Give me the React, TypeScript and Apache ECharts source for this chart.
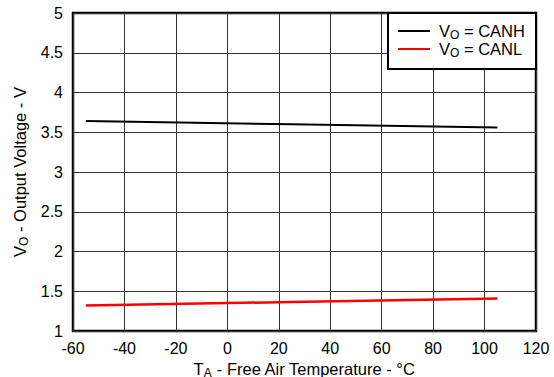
import React, { useEffect, useRef } from "react";
import * as echarts from "echarts";

const temps = [-55, 25, 105];
const canh = [3.64, 3.6, 3.56];
const canl = [1.32, 1.365, 1.41];
const seriesNames = ["CANH", "CANL"];
const seriesColors = ["#000000", "#ff0000"];

export default function App() {
  const ref = useRef<HTMLDivElement>(null);
  useEffect(() => {
    if (!ref.current) return;
    const chart = echarts.init(ref.current, null, { renderer: "svg" });
    const font = "'Liberation Sans', Arial, sans-serif";
    const rich = {
      m: { fontSize: 16.5, lineHeight: 18, fontFamily: font, color: "#000" },
      s: { fontSize: 12, lineHeight: 12, fontFamily: font, color: "#000", verticalAlign: "bottom", padding: [0, 0, -1, 0] },
    };
    chart.setOption({
      animation: false,
      backgroundColor: "#fff",
      textStyle: { fontFamily: font },
      grid: {
        left: 73,
        right: 18,
        top: 13,
        bottom: 46,
        show: true,
        borderColor: "#000",
        borderWidth: 2.5,
        containLabel: false,
        outerBoundsMode: "none",
      },
      xAxis: {
        type: "value",
        min: -60,
        max: 120,
        interval: 20,
        axisLine: { show: false },
        axisTick: { show: false },
        axisLabel: { fontSize: 16, color: "#000", margin: 9, fontFamily: font },
        splitLine: { show: true, lineStyle: { color: "#333", width: 1 } },
        name: "{m|T}{s|A}{m| - Free Air Temperature - °C}",
        nameLocation: "middle",
        nameGap: 20,
        nameTextStyle: { rich },
      },
      yAxis: {
        type: "value",
        min: 1,
        max: 5,
        interval: 0.5,
        axisLine: { show: false },
        axisTick: { show: false },
        axisLabel: { fontSize: 16, color: "#000", margin: 10, fontFamily: font },
        splitLine: { show: true, lineStyle: { color: "#333", width: 1 } },
        name: "{m|V}{s|O}{m| - Output Voltage - V}",
        nameLocation: "middle",
        nameRotate: 90,
        nameGap: 42,
        nameTextStyle: { rich },
      },
      series: [
        {
          name: seriesNames[0],
          type: "line",
          data: temps.map((t, i) => [t, canh[i]]),
          showSymbol: false,
          lineStyle: { color: seriesColors[0], width: 2 },
        },
        {
          name: seriesNames[1],
          type: "line",
          data: temps.map((t, i) => [t, canl[i]]),
          showSymbol: false,
          lineStyle: { color: seriesColors[1], width: 2.5 },
        },
      ],
      graphic: [
        {
          type: "rect",
          shape: { x: 388, y: 13, width: 148, height: 56 },
          style: { fill: "#fff", stroke: "#000", lineWidth: 2 },
          z: 100,
        },
        ...seriesNames.flatMap((n, i) => [
          {
            type: "line",
            shape: { x1: 398, y1: 31 + i * 18, x2: 430, y2: 31 + i * 18 },
            style: { stroke: seriesColors[i], lineWidth: 2 },
            z: 101,
          },
          {
            type: "text",
            x: 439,
            y: 31 + i * 18,
            style: {
              text: `{m|V}{s|O}{m| = ${n}}`,
              rich,
              verticalAlign: "middle",
            },
            z: 101,
          },
        ]),
      ],
    });
    return () => chart.dispose();
  }, []);
  return <div ref={ref} style={{ position: "fixed", left: 0, top: 0, width: 554, height: 377 }} />;
}
